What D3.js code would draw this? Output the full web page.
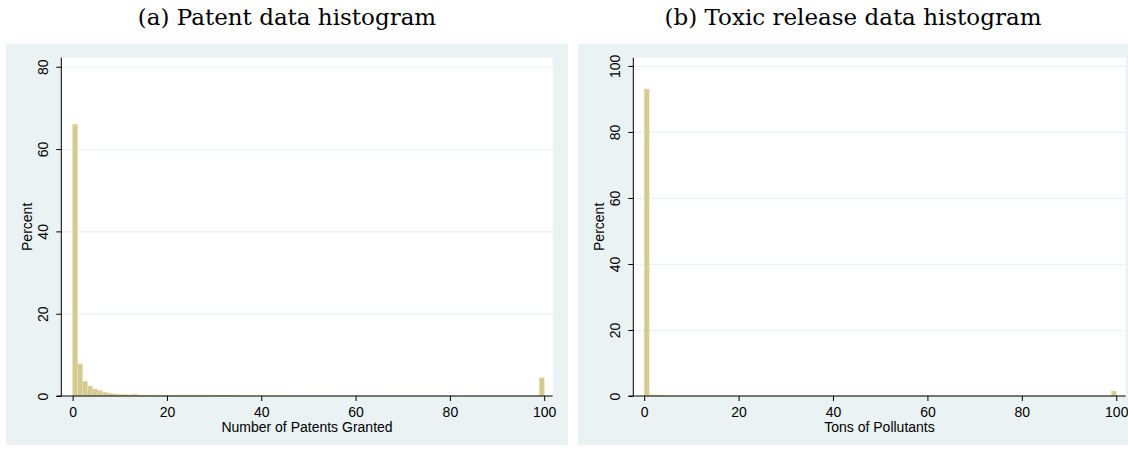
<!DOCTYPE html>
<html>
<head>
<meta charset="utf-8">
<script src="https://cdn.jsdelivr.net/npm/d3@7"></script>
<style>
  body { margin: 0; background: #fff; }
  svg text { font-family: "Liberation Sans", Arial, sans-serif; fill: #000; }
  .title { font-family: "DejaVu Serif", "Liberation Serif", serif; }
</style>
</head>
<body>
<svg width="1128" height="450"></svg>
<script>
// histograms: 95 equal bins over 0..100, values in percent

const patentPercent = [
  66.0, 7.8, 3.6, 2.4, 1.7, 1.3, 0.9, 0.65, 0.5, 0.4,
  0.4, 0.25, 0.45, 0.2, 0.2, 0.15, 0.15, 0.15, 0.15, 0.1,
  0.2, 0.1, 0.1, 0.1, 0.08, 0.08, 0.08, 0.08, 0.08, 0.07,
  0.07, 0.07, 0.07, 0.07, 0.06, 0.06, 0.06, 0.06, 0.06, 0.06,
  0.06, 0.06, 0.05, 0.05, 0.05, 0.05, 0.05, 0.05, 0.05, 0.05,
  0.05, 0.05, 0.05, 0.05, 0.05, 0.05, 0.05, 0.05, 0.05, 0.05,
  0.05, 0.05, 0.05, 0.05, 0.05, 0.05, 0.05, 0.05, 0.05, 0.05,
  0.05, 0.05, 0.05, 0.05, 0.05, 0.05, 0.05, 0.05, 0, 0.05,
  0.05, 0.05, 0.05, 0.05, 0.05, 0.05, 0.05, 0.05, 0.05, 0.05,
  0.05, 0.05, 0.05, 0.05, 4.4
];

const toxicPercent = [
  93.0, 0.3, 0.3, 0.1, 0.08, 0.06, 0.06, 0.05, 0.05, 0.05,
  0.05, 0.05, 0.05, 0.05, 0.05, 0.05, 0.05, 0.05, 0.05, 0.05,
  0.05, 0.05, 0.05, 0.05, 0.05, 0.05, 0.05, 0.05, 0.05, 0.05,
  0.05, 0.05, 0.05, 0.05, 0.05, 0.05, 0.05, 0.05, 0.05, 0.05,
  0.05, 0.05, 0.05, 0.05, 0.05, 0.05, 0.05, 0.05, 0.05, 0.05,
  0.05, 0.05, 0.05, 0.05, 0.05, 0.05, 0.05, 0.05, 0.05, 0.05,
  0.05, 0.05, 0.05, 0.05, 0.05, 0.05, 0.05, 0.05, 0.05, 0.05,
  0.05, 0.05, 0.05, 0.05, 0.05, 0.05, 0.05, 0.05, 0.05, 0.05,
  0.05, 0.05, 0.05, 0.05, 0.05, 0.05, 0.05, 0.05, 0.05, 0.05,
  0.05, 0.05, 0.05, 0.05, 1.5
];

const xTicks = [0, 20, 40, 60, 80, 100];
const patentYTicks = [0, 20, 40, 60, 80];
const toxicYTicks = [0, 20, 40, 60, 80, 100];

const binLo = 0, binHi = 100;

const svg = d3.select("svg");

function drawPanel(cfg) {
  const g = svg.append("g");

  // panel title
  g.append("text")
    .attr("class", "title")
    .attr("x", (cfg.bgX0 + cfg.bgX1) / 2)
    .attr("y", 25)
    .attr("text-anchor", "middle")
    .attr("font-size", "23px")
    .text(cfg.title);

  // graph region
  g.append("rect")
    .attr("x", cfg.bgX0).attr("y", 44)
    .attr("width", cfg.bgX1 - cfg.bgX0).attr("height", 401)
    .attr("fill", "#eaf2f3");

  const x = d3.scaleLinear().domain(cfg.xDomain).range([cfg.left, cfg.right]);
  const y = d3.scaleLinear().domain(cfg.yDomain).range([396, 57.7]);

  // plot region
  g.append("rect")
    .attr("x", cfg.left).attr("y", 57.7)
    .attr("width", cfg.right - cfg.left).attr("height", 396 - 57.7)
    .attr("fill", "#fff");

  // grid lines
  g.append("g")
    .attr("transform", `translate(${cfg.left},0)`)
    .call(d3.axisLeft(y).tickValues(cfg.yTicks.filter(t => t > 0))
      .tickSize(-(cfg.right - cfg.left)).tickFormat(""))
    .call(a => a.select(".domain").remove())
    .selectAll("line")
      .attr("stroke", "#eaf2f3")
      .attr("stroke-width", 1.2);

  // bars
  const n = cfg.values.length;
  const w = (binHi - binLo) / n;
  g.append("g")
    .selectAll("rect")
    .data(cfg.values)
    .enter()
    .append("rect")
      .attr("x", (d, i) => x(binLo + i * w))
      .attr("y", d => y(d))
      .attr("width", (d, i) => x(binLo + (i + 1) * w) - x(binLo + i * w))
      .attr("height", d => y(0) - y(d))
      .attr("fill", "#d5ca8f")
      .attr("stroke", "#e6dfb6")
      .attr("stroke-width", 0.6);

  // axes
  const yAxis = g.append("g")
    .attr("transform", `translate(${cfg.left},0)`)
    .call(d3.axisLeft(y).tickValues(cfg.yTicks).tickSize(5).tickSizeOuter(0));
  yAxis.select(".domain").attr("d", `M0,57.7V396`).attr("stroke", "#000");
  yAxis.selectAll("text")
    .attr("font-size", "14px")
    .attr("text-anchor", "middle")
    .attr("dy", 0)
    .attr("transform", "rotate(-90)")
    .attr("x", 0)
    .attr("y", -13);

  const xAxis = g.append("g")
    .attr("transform", `translate(0,396)`)
    .call(d3.axisBottom(x).tickValues(xTicks).tickSize(5).tickPadding(6).tickSizeOuter(0));
  xAxis.select(".domain").attr("d", `M${cfg.left - 4.7},0H${cfg.right}`).attr("stroke", "#000");
  xAxis.selectAll("text").attr("font-size", "14px");

  // axis titles
  g.append("text")
    .attr("transform", `translate(${cfg.left - 29},${(57.7 + 396) / 2}) rotate(-90)`)
    .attr("text-anchor", "middle")
    .attr("font-size", "14px")
    .text("Percent");

  g.append("text")
    .attr("x", (cfg.left + cfg.right) / 2)
    .attr("y", 432)
    .attr("text-anchor", "middle")
    .attr("font-size", "14px")
    .text(cfg.xTitle);
}

drawPanel({
  title: "(a) Patent data histogram",
  xTitle: "Number of Patents Granted",
  values: patentPercent,
  yTicks: patentYTicks,
  bgX0: 6, bgX1: 568,
  left: 61.3, right: 552.7,
  xDomain: [-2.4, 101.8],
  yDomain: [0, 82.2]
});

drawPanel({
  title: "(b) Toxic release data histogram",
  xTitle: "Tons of Pollutants",
  values: toxicPercent,
  yTicks: toxicYTicks,
  bgX0: 578, bgX1: 1128,
  left: 633.3, right: 1125.7,
  xDomain: [-2.3, 102],
  yDomain: [0, 102.5]
});
</script>
</body>
</html>
